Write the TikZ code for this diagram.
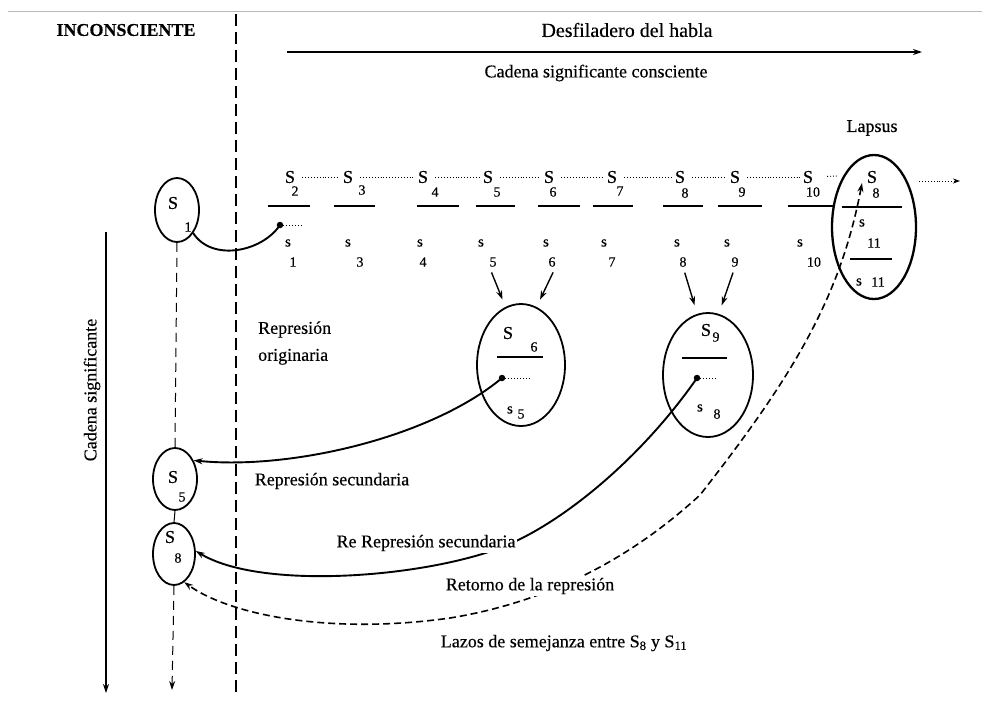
\documentclass[tikz,border=0pt]{standalone}
\usepackage{fontspec}
\setmainfont{Liberation Serif}[FakeBold=0.4]
\usetikzlibrary{shapes.geometric,arrows.meta}

\begin{document}
\begin{tikzpicture}[x=1pt,y=-1pt,
  lbl/.style={font=\fontsize{18}{20}\selectfont, inner sep=1pt},
  sig/.style={font=\fontsize{18}{20}\selectfont, inner sep=0pt},
  idx/.style={font=\fontsize{14}{16}\selectfont, inner sep=0pt},
  low/.style={font=\fontsize{15}{17}\selectfont, inner sep=0pt},
  oval/.style={ellipse, draw, line width=1.8pt, inner sep=0pt},
  bar/.style={line width=2.3pt},
  link/.style={line width=1.9pt},
  tip/.style={-{Stealth[length=9pt,width=6pt]}},
  tips/.style={{Stealth[length=9pt,width=6pt]}-{Stealth[length=9pt,width=6pt]}},
  dotline/.style={dotted, line width=0.9pt},
  dotnode/.style={circle, fill, inner sep=0pt, minimum size=6.5pt},
  cut/.style={fill=white, inner sep=2pt}
]
\useasboundingbox (0,0) rectangle (982,702);

% frame line
\draw[gray!55, line width=0.8pt] (8,11) -- (982,11);

% headings
\node[lbl] (inc) at (126,30) {\bfseries INCONSCIENTE};
\node[lbl] (desf) at (627,30) {\fontsize{20}{22}\selectfont Desfiladero del habla};
\node[lbl] (cad) at (596,73) {Cadena significante consciente};
\node[lbl] (lapsus) at (872,128) {Lapsus};
\coordinate (habA) at (287,52);
\coordinate (habB) at (922,52);
\draw[line width=1.6pt, tip] (habA) -- (habB);

% divider between unconscious and conscious
\coordinate (divA) at (236,14);
\coordinate (divB) at (236,696);
\draw[line width=1.2pt, dash pattern=on 12pt off 6pt] (divA) -- (divB);

% vertical signifying chain
\coordinate (vtop) at (106,232);
\coordinate (vbot) at (106,693);
\draw[line width=1.2pt, tip] (vtop) -- (vbot);
\node[lbl, rotate=90] (cadv) at (92,390) {Cadena significante};

% ellipses
\node[oval, minimum width=44pt, minimum height=64pt] (e1) at (177,210) {};
\node[oval, minimum width=44pt, minimum height=62pt] (e5) at (175,479) {};
\node[oval, minimum width=42pt, minimum height=62pt] (e8) at (174,554) {};
\node[oval, minimum width=88pt, minimum height=122pt] (e6) at (521,365) {};
\node[oval, minimum width=90pt, minimum height=124pt] (e9) at (708,375) {};
\node[oval, line width=2.3pt, minimum width=84pt, minimum height=144pt] (eL) at (874,227) {};

% texts inside the small ellipses
\node[sig] (t1S) at (173,203) {S};
\node[idx] (t1i) at (188,227) {1};
\node[sig] (t5S) at (173,477) {S};
\node[idx] (t5i) at (182,497) {5};
\node[sig] (t8S) at (170,537) {S};
\node[idx] (t8i) at (178,558) {8};

% upper row of signifiers
\foreach \k/\x/\sub/\sx/\sy in {a/290/2/295/191, b/348/3/362/190, c/423/4/435/192,
    d/488/5/497/192, e/549/6/553/192, f/612/7/620/191, g/680/8/685/193,
    h/735/9/742/192, i/808/10/813/192}{
  \node[sig] (S\k) at (\x,177) {S};
  \node[idx] (Si\k) at (\sx,\sy) {\sub};
}
\foreach \p/\q in {a/b, b/c, c/d, d/e, e/f, f/g, g/h, h/i}{
  \draw[dotline, shorten <=7pt, shorten >=3pt] (S\p.east) -- (S\q.west);
}
\draw[dotline, shorten <=14pt, shorten >=5pt] (Si.east) -- (eL.121);

% bars
\foreach \a/\b in {268/310, 334/375, 417/459, 476/515, 538/580, 593/633,
    663/703, 718/762, 788/834}{
  \draw[bar] (\a,206) -- (\b,206);
}

% lower row of signifieds
\foreach \k/\x/\sub/\sx in {a/288/1/293, b/348/3/360, c/420/4/423, d/481/5/493,
    e/546/6/552, f/604/7/612, g/677/8/683, h/727/9/735, i/800/10/814}{
  \node[low] (s\k) at (\x,243) {s};
  \node[idx] (si\k) at (\sx,262) {\sub};
}

% arrows converging on the ellipses
\draw[line width=1.4pt, tip, shorten <=6pt, shorten >=8pt] (sid.south west) -- (e6.105);
\draw[line width=1.4pt, tip, shorten <=6pt, shorten >=8pt] (sie.south east) -- (e6.75);
\draw[line width=1.4pt, tip, shorten <=6pt, shorten >=9pt] (sig.south) -- (e9.100);
\draw[line width=1.4pt, tip, shorten <=6pt, shorten >=9pt] (sih.south) -- (e9.80);

% contents of S6 / s5
\node[sig] (e6S) at (508,333) {S};
\node[idx] (e6Si) at (534,347) {6};
\draw[bar, line width=1.9pt] (497,357) -- (543,357);
\node[dotnode] (d6) at (502,378) {};
\draw[dotline] (d6.east) -- ++(24,0);
\node[low] (e6s) at (510,410) {s};
\node[idx] (e6si) at (521,414) {5};

% contents of S9 / s8
\node[sig] (e9S) at (706,330) {S};
\node[idx] (e9Si) at (716,337) {9};
\draw[bar, line width=1.9pt] (682,358) -- (727,358);
\node[dotnode] (d9) at (697,378) {};
\draw[dotline] (d9.east) -- ++(16,0);
\node[low] (e9s) at (700,408) {s};
\node[idx] (e9si) at (717,414) {8};

% contents of the lapsus ellipse
\node[sig] (eLS) at (872,177) {S};
\node[idx] (eLSi) at (876,193) {8};
\draw[bar] (842,207) -- (902,207);
\node[low] (eLs) at (862,223) {s};
\node[idx] (eLsi) at (874,243) {11};
\draw[bar] (850,259) -- (892,259);
\node[low] (eLs2) at (859,282) {s};
\node[idx] (eLs2i) at (878,282) {11};
\coordinate (outR) at (960,181);
\draw[dotline, shorten <=2pt, -{Stealth[length=7pt,width=5pt]}] (eL.east |- outR) -- (outR);

% S1 with its bound signified
\node[dotnode] (d1) at (280,225) {};
\draw[dotline] (d1.east) -- ++(18,0);
\draw[link] (e1.-55) .. controls (212,262) and (262,252) .. (d1.center);

% vertical chain in the unconscious
\draw[line width=1pt, dash pattern=on 9pt off 6pt] (e1.south) -- (e5.north);
\draw[line width=1pt] (e5.south) -- (e8.north);
\coordinate (cbot) at (172,690);
\draw[line width=1pt, dash pattern=on 9pt off 6pt, tip] (e8.south) -- (cbot);

% repressions
\draw[link, tip] (d6.center) .. controls (430,438) and (290,470) .. (e5.45);
\draw[link, tip] (d9.center) .. controls (640,460) and (560,525) .. (500,548)
   .. controls (420,578) and (260,590) .. (e8.8);
\coordinate (lz) at (862,183);
\draw[line width=1.6pt, dash pattern=on 7pt off 4pt, tips] (lz)
   .. controls (840,300) and (790,380) .. (700,495)
   .. controls (640,550) and (560,600) .. (450,618)
   .. controls (330,635) and (230,615) .. (e8.-70);

% labels
\node[lbl, anchor=west, align=left, font=\fontsize{18}{27}\selectfont] (orig) at (257,343) {Represión\\originaria};
\node[lbl] (rsec) at (332,481) {Represión secundaria};
\node[lbl, cut] (rrsec) at (426,543) {Re Represión secundaria};
\node[lbl, cut] (ret) at (530,586) {Retorno de la represión};
\node[lbl] (lazos) at (564,643) {Lazos de semejanza entre S\textsubscript{8} y S\textsubscript{11}};
\end{tikzpicture}
\end{document}
